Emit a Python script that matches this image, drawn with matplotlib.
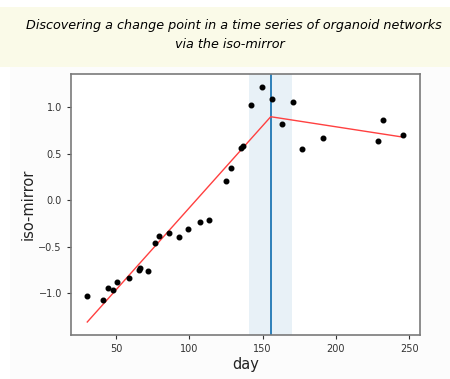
import numpy as np
import matplotlib.pyplot as plt
from matplotlib.patches import Rectangle

# data
day = [30.4, 41.4, 44.3, 48.2, 50.9, 59.1, 65.5, 66.4, 72.0, 76.4, 79.3, 86.1,
       93.2, 99.3, 107.0, 113.4, 125.2, 128.2, 135.4, 136.4, 142.0, 149.3,
       156.6, 163.0, 170.5, 177.0, 191.3, 228.4, 232.3, 245.9]
iso = [-1.03, -1.07, -0.94, -0.97, -0.88, -0.84, -0.75, -0.73, -0.76, -0.46,
       -0.38, -0.35, -0.40, -0.31, -0.23, -0.21, 0.21, 0.35, 0.56, 0.59,
       1.03, 1.22, 1.09, 0.82, 1.06, 0.55, 0.67, 0.64, 0.87, 0.70]
fit_x = [30.4, 155.5, 245.9]
fit_y = [-1.31, 0.90, 0.68]
change_day = 155.5
span = (141, 170)

title_lines = ['Discovering a change point in a time series of organoid networks',
               'via the iso-mirror']

fig = plt.figure(figsize=(4.5, 3.79), dpi=100)
fig.patch.set_facecolor('white')

# slide background pieces
W, H = 450, 379
fig.patches.append(Rectangle((0, 1 - 67 / H), 1, 60 / H, transform=fig.transFigure,
                             facecolor='#fafae8', edgecolor='none', zorder=-5))
fig.patches.append(Rectangle((10 / W, 0), 1, 1 - 67 / H, transform=fig.transFigure,
                             facecolor='#fcfcfc', edgecolor='none', zorder=-5))

fig.text(234 / W, 1 - 25 / H, title_lines[0], ha='center', va='center',
         fontsize=9.2, style='italic', family='DejaVu Sans')
fig.text(230 / W, 1 - 45 / H, title_lines[1], ha='center', va='center',
         fontsize=9.2, style='italic', family='DejaVu Sans')

ax = fig.add_axes([71 / W, 44 / H, 349 / W, 261 / H])
ax.set_zorder(2)
ax.set_facecolor('white')
ax.axvspan(span[0], span[1], color='#1f77b4', alpha=0.1, lw=0)
ax.axvline(change_day, color='#1f77b4', lw=1.3)
ax.plot(fit_x, fit_y, color='#ff4040', lw=1)
ax.plot(day, iso, 'o', color='black', ms=3.3)

ax.set_xlim(19.3, 257.3)
ax.set_ylim(-1.45, 1.36)
ax.set_xticks([50, 100, 150, 200, 250])
ax.set_yticks([-1.0, -0.5, 0.0, 0.5, 1.0])
ax.set_xlabel('day', fontsize=10.5, color='#222222', labelpad=2)
ax.set_ylabel('iso-mirror', fontsize=10.5, color='#222222', labelpad=2)
ax.tick_params(labelsize=7, colors='#333333', length=3)
for s in ax.spines.values():
    s.set_color('#7a7a7a')
    s.set_linewidth(1.2)

fig.savefig('out.png', dpi=100, facecolor=fig.get_facecolor())
